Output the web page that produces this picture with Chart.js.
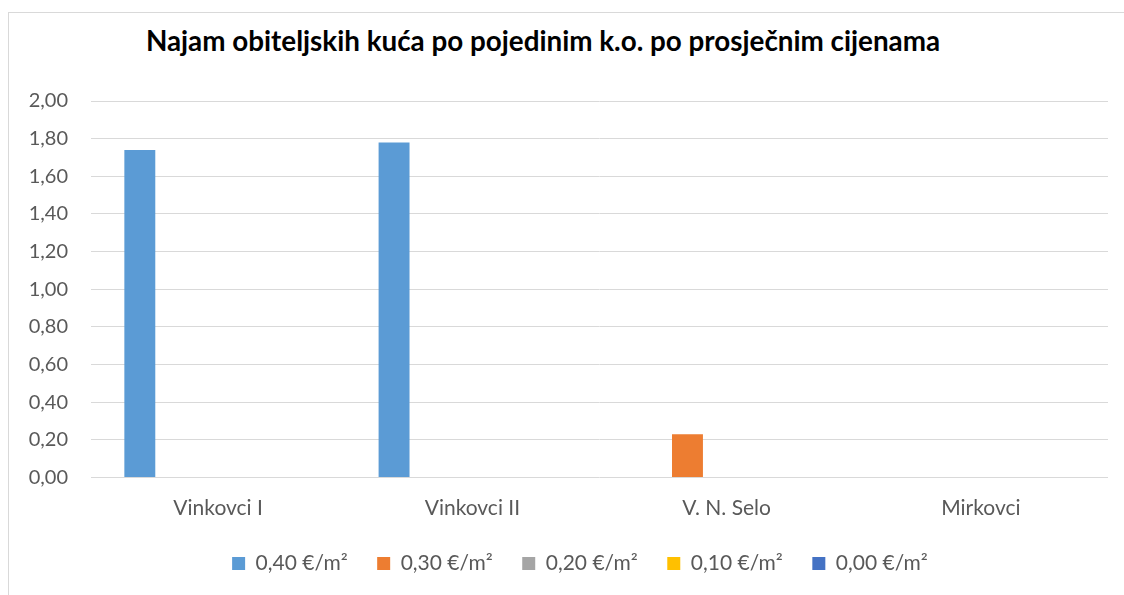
<!DOCTYPE html>
<html>
<head>
<meta charset="utf-8">
<script src="https://cdn.jsdelivr.net/npm/chart.js@4.4.1/dist/chart.umd.min.js"></script>
<style>
  html, body { margin: 0; padding: 0; background: #fff; overflow: hidden; }
  #frame { position: absolute; left: 8px; top: 12px; width: 1130px; height: 600px; border: 1px solid #d9d9d9; box-sizing: border-box; }
  #title { position: absolute; top: 25px; left: 543px; transform: translateX(-50%); white-space: nowrap; line-height: 32px;
           font-family: Lato, "Liberation Sans", sans-serif; font-weight: bold; font-size: 27.8px; color: #000; }
  #wrap { position: absolute; left: 0; top: 0; width: 1156px; height: 595px; }
</style>
</head>
<body>
<div id="frame"></div>
<div id="title">Najam obiteljskih kuća po pojedinim k.o. po prosječnim cijenama</div>
<div id="wrap"><canvas id="c" width="1156" height="595"></canvas></div>
<script>
const categories = ["Vinkovci I", "Vinkovci II", "V. N. Selo", "Mirkovci"];
const seriesNames = ["0,40 €/m²", "0,30 €/m²", "0,20 €/m²", "0,10 €/m²", "0,00 €/m²"];
const s040 = [1.74, 1.78, null, null];
const s030 = [null, null, 0.23, null];
const s020 = [null, null, null, null];
const s010 = [null, null, null, null];
const s000 = [null, null, null, null];
const yTicks = [0, 0.2, 0.4, 0.6, 0.8, 1.0, 1.2, 1.4, 1.6, 1.8, 2.0];

const colors = ["#5B9BD5", "#ED7D31", "#A5A5A5", "#FFC000", "#4472C4"];
const allSeries = [s040, s030, s020, s010, s000];
const font = "Lato, 'Liberation Sans', sans-serif";

const datasets = allSeries.map((d, i) => ({
  label: seriesNames[i],
  data: d,
  backgroundColor: colors[i],
  borderWidth: 0,
  categoryPercentage: 0.77,
  barPercentage: 0.79
}));

new Chart(document.getElementById('c'), {
  type: 'bar',
  data: { labels: categories, datasets },
  options: {
    responsive: false,
    animation: false,
    layout: { padding: { left: 20, right: 16, top: 101, bottom: 11 } },
    plugins: {
      title: { display: false },
      tooltip: { enabled: false },
      legend: {
        position: 'bottom',
        labels: {
          boxWidth: 13, boxHeight: 13,
          padding: 29.5,
          color: '#595959',
          font: { family: font, size: 21 }
        }
      }
    },
    scales: {
      x: {
        afterFit: (s) => { s.height = 46; },
        grid: { display: false, drawTicks: false },
        border: { display: false },
        ticks: { color: '#595959', font: { family: font, size: 21 }, padding: 18 }
      },
      y: {
        min: 0, max: 2,
        afterBuildTicks: (s) => { s.ticks = yTicks.map(v => ({ value: v })); },
        afterFit: (s) => { s.width = 71; },
        grid: { color: '#d9d9d9', lineWidth: 1, drawTicks: false },
        border: { display: false },
        ticks: {
          color: '#595959', font: { family: font, size: 20 }, padding: 23,
          callback: (v) => Number(v).toFixed(2).replace('.', ',')
        }
      },
      yPad: {
        type: 'linear', position: 'right', min: 0, max: 2,
        afterFit: (s) => { s.width = 32; },
        grid: { display: false, drawOnChartArea: false, drawTicks: false },
        border: { display: false },
        ticks: { display: false }
      }
    }
  }
});
</script>
</body>
</html>
